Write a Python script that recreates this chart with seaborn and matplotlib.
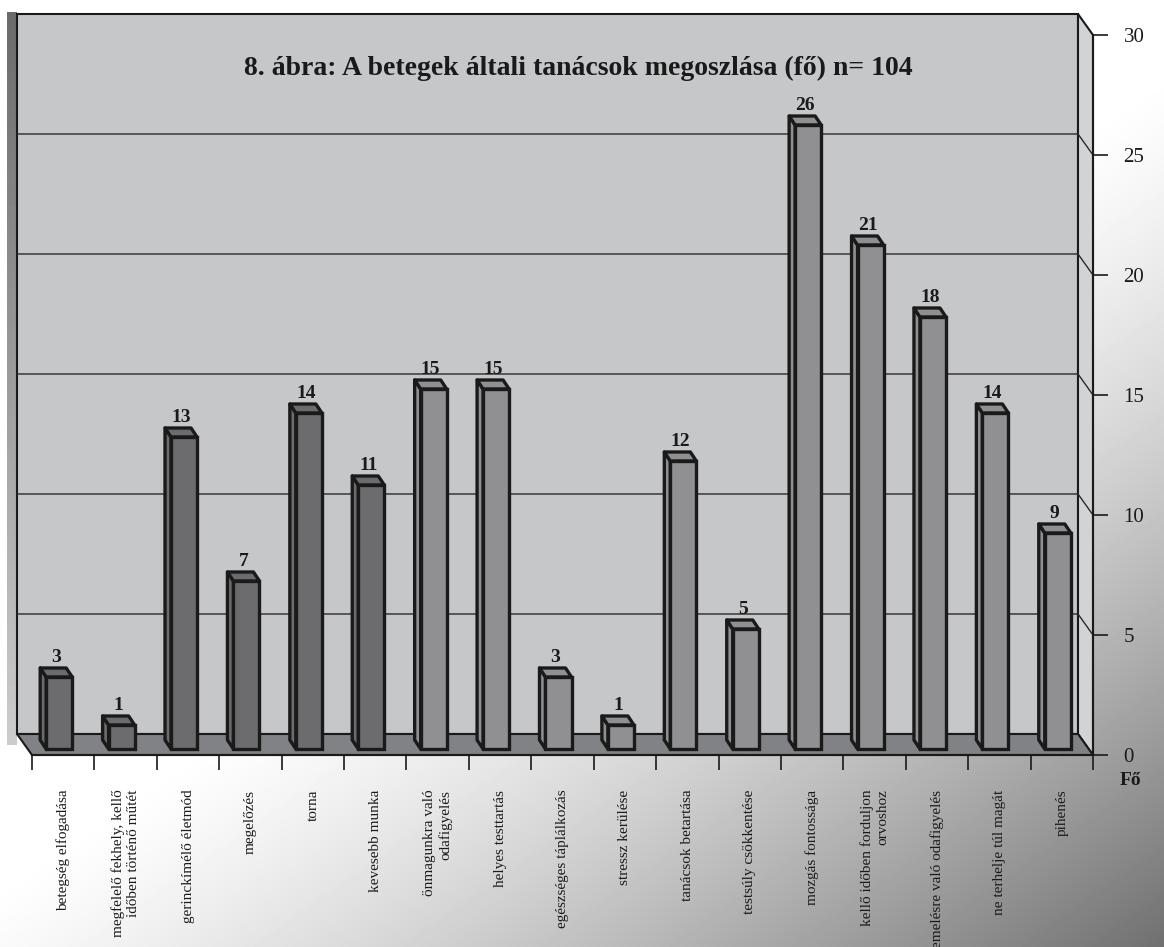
import numpy as np
import pandas as pd
import matplotlib
matplotlib.use("Agg")
import matplotlib.pyplot as plt
from matplotlib.patches import Polygon
import seaborn as sns

sns.set_style("white")
plt.rcParams["font.family"] = ["Liberation Serif", "DejaVu Serif"]

# Data
categories = ["betegség elfogadása", "megfelelő fekhely, kellő\nidőben történő műtét",
              "gerinckímélő életmód", "megelőzés", "torna", "kevesebb munka",
              "önmagunkra való\nodafigyelés", "helyes testtartás", "egészséges táplálkozás",
              "stressz kerülése", "tanácsok betartása", "testsúly csökkentése",
              "mozgás fontossága", "kellő időben forduljon\norvoshoz",
              "emelésre való odafigyelés", "ne terhelje túl magát", "pihenés"]
values = [3, 1, 13, 7, 14, 11, 15, 15, 3, 1, 12, 5, 26, 21, 18, 14, 9]
groups = ["a"] * 6 + ["b"] * 11
yticks = [0, 5, 10, 15, 20, 25, 30]
title = "8. ábra: A betegek általi tanácsok megoszlása (fő) n= 104"

df = pd.DataFrame({"cat": categories, "val": values, "grp": groups})
df["pos"] = range(len(df))

W, H = 1164, 947
fig = plt.figure(figsize=(W / 100, H / 100), dpi=100)

# background gradient
bg = fig.add_axes([0, 0, 1, 1])
bg.set_xlim(0, W)
bg.set_ylim(H, 0)
bg.axis("off")
xx, yy = np.meshgrid(np.linspace(0, 1, 300), np.linspace(0, 1, 300))
t = np.clip((xx * 0.6 + yy * 0.7 - 0.65) / 0.65, 0, 1) ** 1.3
shade = 1.0 - t * 0.56
bg.imshow(shade, cmap="gray", vmin=0, vmax=1, extent=(0, W, H, 0), aspect="auto",
          interpolation="bilinear")
strip = np.linspace(0.42, 0.8, 200).reshape(-1, 1)
bg.imshow(strip, cmap="gray", vmin=0, vmax=1, extent=(7, 17, 745, 12), aspect="auto")

# main axes: front plane of the 3D box
left_px, right_px, top_px, bot_px = 32, 1093, 35, 755
ax = fig.add_axes([left_px / W, 1 - bot_px / H, (right_px - left_px) / W,
                   (bot_px - top_px) / H])
ax.set_facecolor("none")
n = len(categories)
ax.set_xlim(-0.5, n - 0.5)
ax.set_ylim(0, 30)
ux = (right_px - left_px) / n   # px per category
uy = (bot_px - top_px) / 30     # px per unit

def shift(dx_px, dy_px):
    return dx_px / ux, dy_px / uy

wdx, wdy = shift(-15, 21)   # back wall
fdx, fdy = shift(-4, 6)     # bar front face
bdx, bdy = shift(-10, 15)   # bar back face

x0, x1 = -0.5, n - 0.5
wall_col = "#c6c7c9"
ax.add_patch(Polygon([(x0 + wdx, wdy), (x0 + wdx, 30 + wdy), (x1 + wdx, 30 + wdy),
                      (x1 + wdx, wdy)], closed=True, fc=wall_col, ec="#1a1a1a",
                     lw=1.5, clip_on=False, zorder=0.5))
ax.add_patch(Polygon([(x1 + wdx, wdy), (x1 + wdx, 30 + wdy), (x1, 30), (x1, 0)],
                     closed=True, fc="#d2d3d5", ec="#1a1a1a", lw=1.5, clip_on=False,
                     zorder=0.6))
ax.add_patch(Polygon([(x0, 0), (x0 + wdx, wdy), (x1 + wdx, wdy), (x1, 0)], closed=True,
                     fc="#818286", ec="#1a1a1a", lw=1.5, clip_on=False, zorder=0.7))
for v in yticks[1:-1]:
    ax.plot([x0 + wdx, x1 + wdx, x1], [v + wdy, v + wdy, v], color="#2a2a2a", lw=1.0,
            clip_on=False, zorder=0.8)

sns.barplot(data=df, x="pos", y="val", hue="grp", dodge=False, width=0.417,
            palette={"a": "#6b6c70", "b": "#8f9094"}, legend=False, ax=ax,
            edgecolor="#1a1a1a", linewidth=2.4, zorder=3)

side_col = {"#6b6c70": "#5c5d61", "#8f9094": "#7f8084"}
top_col = {"#6b6c70": "#77787c", "#8f9094": "#a0a1a5"}
for p in ax.patches:
    if not hasattr(p, "get_width") or p.get_height() == 0 or p.zorder != 3:
        continue
    fc = matplotlib.colors.to_hex(p.get_facecolor())
    bx, bw, h = p.get_x(), p.get_width(), p.get_height()
    p.set_x(bx + fdx)
    p.set_y(fdy)
    fl, fr = bx + fdx, bx + bw + fdx
    bl, br = bx + bdx, bx + bw + bdx
    ax.add_patch(Polygon([(fl, fdy), (fl, h + fdy), (bl, h + bdy), (bl, bdy)], closed=True,
                         fc=side_col.get(fc, fc), ec="#1a1a1a", lw=2.4, zorder=2.9,
                         joinstyle="round"))
    ax.add_patch(Polygon([(fl, h + fdy), (fr, h + fdy), (br, h + bdy), (bl, h + bdy)],
                         closed=True, fc=top_col.get(fc, fc), ec="#1a1a1a", lw=2.4,
                         zorder=2.9, joinstyle="round"))
    ax.text(bx + bw / 2 + (fdx + bdx) / 2, h + bdy + 0.1, str(int(h)), ha="center",
            va="bottom", fontsize=14, fontweight="bold", color="#1a1a1a", zorder=4)

# axes styling
for s in ["left", "top"]:
    ax.spines[s].set_visible(False)
for s in ["right", "bottom"]:
    ax.spines[s].set_color("#1a1a1a")
    ax.spines[s].set_linewidth(1.5)
    ax.spines[s].set_zorder(5)
ax.yaxis.tick_right()
ax.set_yticks(yticks)
ax.set_yticklabels([str(v) for v in yticks], fontsize=15, color="#1a1a1a")
ax.tick_params(axis="y", direction="out", length=11, width=1.2, pad=11, colors="#1a1a1a",
               right=True)
ax.set_xticks(np.arange(n))
ax.set_xticklabels(categories, rotation=90, fontsize=11, va="top", ha="center",
                   multialignment="right", color="#1a1a1a")
ax.tick_params(axis="x", which="major", length=0, pad=25)
ax.set_xticks(np.arange(-0.5, n, 1.0), minor=True)
ax.tick_params(axis="x", which="minor", bottom=True, direction="out", length=11,
               width=1.2, colors="#1a1a1a")
ax.set_xlabel("")
ax.set_ylabel("")
ax.grid(False)

fig.text(1130 / W, 1 - 780 / H, "Fő", ha="center", va="center", fontsize=14,
         fontweight="bold", color="#1a1a1a")
fig.text(578 / W, 1 - 68 / H, title, ha="center", va="center", fontsize=20,
         fontweight="bold", color="#1a1a1a")

fig.savefig("out.png", dpi=100)
